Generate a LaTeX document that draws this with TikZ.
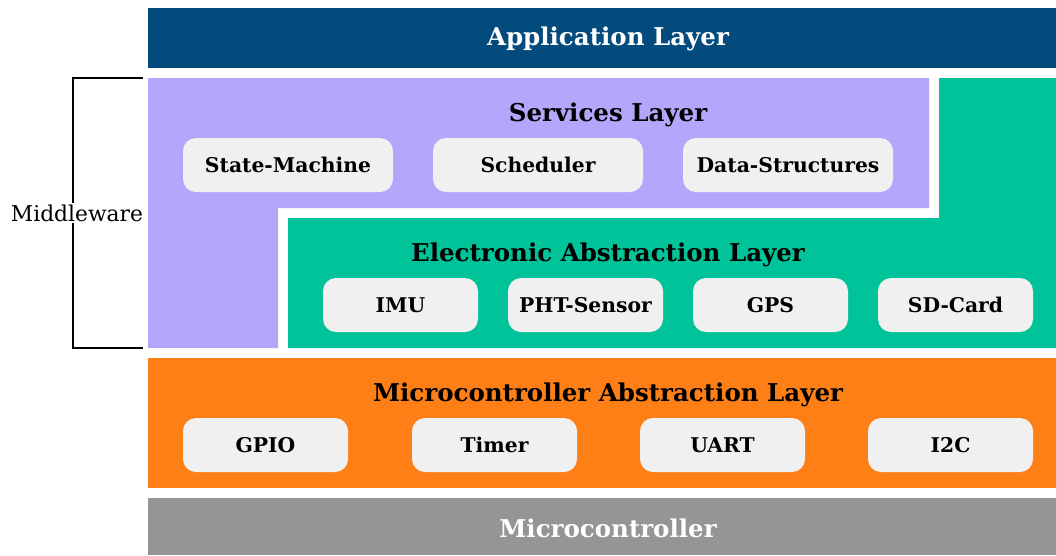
\documentclass[tikz,border=0pt]{standalone}
\usepackage{fontspec}
\setmainfont{DejaVu Serif}
\definecolor{appblue}{HTML}{034B7C}
\definecolor{svcpurple}{HTML}{B4A6FB}
\definecolor{ealteal}{HTML}{00C39A}
\definecolor{mcalorange}{HTML}{FF7F17}
\definecolor{mcugray}{HTML}{959595}
\definecolor{boxgray}{HTML}{F0F0F0}
\tikzset{
  layertitle/.style={font=\bfseries\fontsize{24.5}{29}\selectfont, inner sep=0pt, anchor=base},
  moduleboxA/.style={fill=boxgray, rounded corners=13pt, minimum height=54pt, inner sep=0pt,
    font=\bfseries\fontsize{20.3}{25}\selectfont},
}
\begin{document}
\begin{tikzpicture}[x=1pt,y=-1pt]
\useasboundingbox (0,0) rectangle (1056,555);
% application layer
\fill[appblue] (148,8) rectangle (1056,68);
\node[layertitle, text=white] (app) at (608,45) {Application Layer};
% services layer (L shape)
\fill[svcpurple] (148,78) -- (929,78) -- (929,208) -- (278,208) -- (278,348) -- (148,348) -- cycle;
\node[layertitle] (svc) at (608,121) {Services Layer};
\node[moduleboxA, minimum width=210pt] (sm) at (288,165) {State-Machine};
\node[moduleboxA, minimum width=210pt] (sch) at (538,165) {Scheduler};
\node[moduleboxA, minimum width=210pt] (ds) at (788,165) {Data-Structures};
% electronic abstraction layer (L shape)
\fill[ealteal] (939,78) -- (1056,78) -- (1056,348) -- (288,348) -- (288,218) -- (939,218) -- cycle;
\node[layertitle] (eal) at (608,261) {Electronic Abstraction Layer};
\node[moduleboxA, minimum width=155pt] (imu) at (400.5,305) {IMU};
\node[moduleboxA, minimum width=155pt] (pht) at (585.5,305) {PHT-Sensor};
\node[moduleboxA, minimum width=155pt] (gps) at (770.5,305) {GPS};
\node[moduleboxA, minimum width=155pt] (sd) at (955.5,305) {SD-Card};
% microcontroller abstraction layer
\fill[mcalorange] (148,358) rectangle (1056,488);
\node[layertitle] (mcal) at (608,401) {Microcontroller Abstraction Layer};
\node[moduleboxA, minimum width=165pt] (gpio) at (265.5,445) {GPIO};
\node[moduleboxA, minimum width=165pt] (tim) at (494.5,445) {Timer};
\node[moduleboxA, minimum width=165pt] (uart) at (722.5,445) {UART};
\node[moduleboxA, minimum width=165pt] (iic) at (950.5,445) {I2C};
% microcontroller
\fill[mcugray] (148,498) rectangle (1056,555);
\node[layertitle, text=white] (mcu) at (608,537) {Microcontroller};
% middleware bracket
\coordinate (bt) at (143,78);
\coordinate (bb) at (143,348);
\draw[line width=2pt] (bt) -- (73,78) -- (73,348) -- (bb);
\node[fill=white, inner sep=2pt, font=\fontsize{21.8}{26}\selectfont] (mw) at (77,213) {Middleware};
\end{tikzpicture}
\end{document}
